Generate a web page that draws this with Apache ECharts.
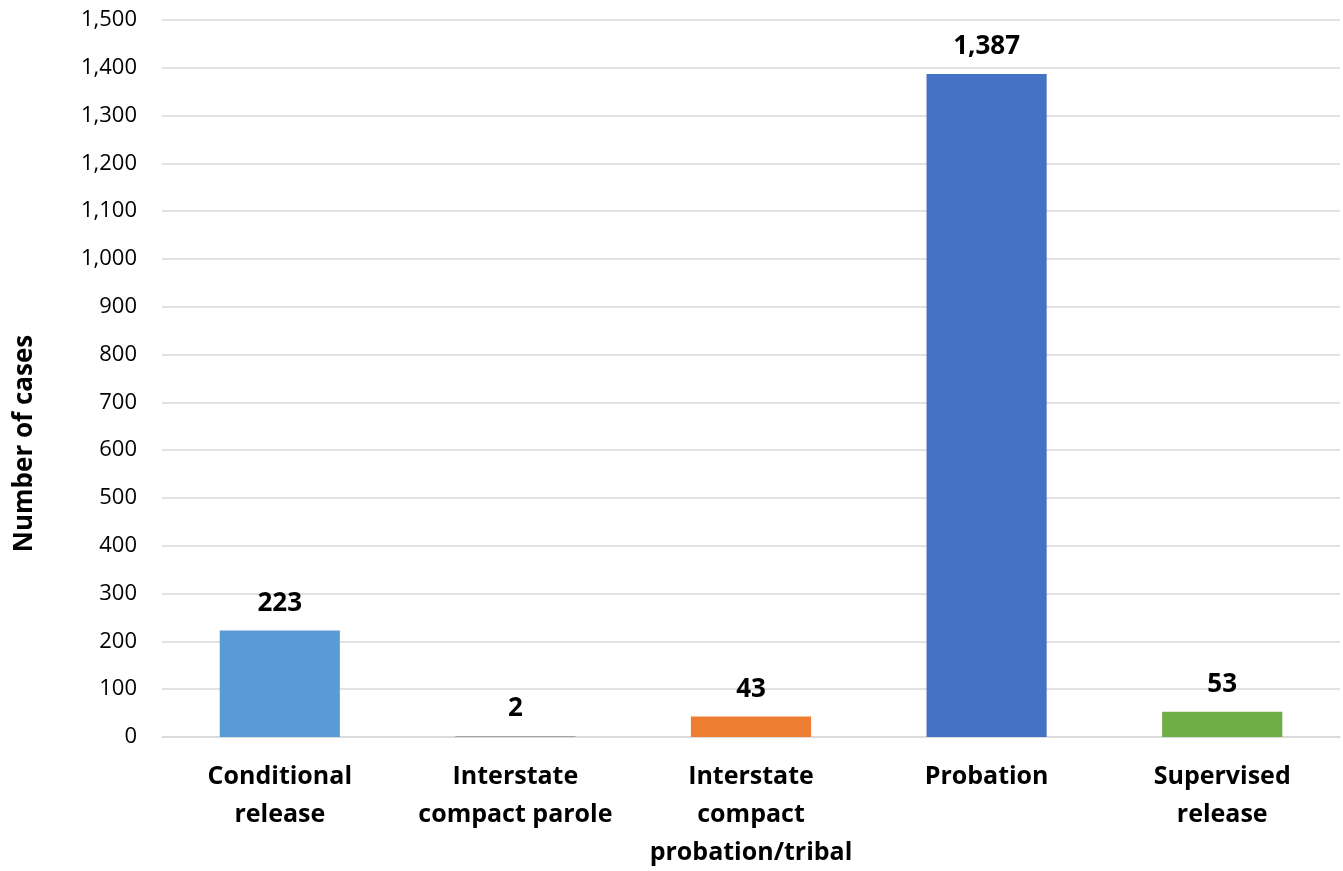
<!DOCTYPE html>
<html>
<head>
<meta charset="utf-8">
<script src="https://cdn.jsdelivr.net/npm/echarts@6/dist/echarts.min.js"></script>
<style>
  html, body { margin: 0; padding: 0; background: #fff; }
  #chart { width: 1343px; height: 871px; }
</style>
</head>
<body>
<div id="chart"></div>
<script>
// categories and values
var categories = ['Conditional\nrelease', 'Interstate\ncompact parole', 'Interstate\ncompact\nprobation/tribal', 'Probation', 'Supervised\nrelease'];
var cases = [223, 2, 43, 1387, 53];
var barColors = ['#5B9BD5', '#A5A5A5', '#ED7D31', '#4472C4', '#70AD47'];

var fmt = function (v) {
  return Number(v).toLocaleString('en-US');
};

var chart = echarts.init(document.getElementById('chart'));

chart.setOption({
  animation: false,
  grid: {
    left: 162,
    right: 3,
    top: 20,
    bottom: 134,
    outerBoundsMode: 'none'
  },
  xAxis: {
    type: 'category',
    data: categories,
    axisLine: { show: true, lineStyle: { color: '#d9d9d9', width: 1.5 } },
    axisTick: { show: false },
    axisLabel: {
      color: '#000',
      fontFamily: 'Open Sans',
      fontWeight: 'bold',
      fontSize: 25,
      lineHeight: 38,
      margin: 21,
      interval: 0
    }
  },
  yAxis: {
    type: 'value',
    min: 0,
    max: 1500,
    interval: 100,
    name: 'Number of cases',
    nameLocation: 'middle',
    nameGap: 124,
    nameTextStyle: {
      color: '#000',
      fontFamily: 'Open Sans',
      fontWeight: 'bold',
      fontSize: 26,
      // push the title a bit below the middle, like the original
      padding: [0, 130, 0, 0]
    },
    axisLine: { show: false },
    axisTick: { show: false },
    splitLine: { lineStyle: { color: '#d9d9d9', width: 1.5 } },
    axisLabel: {
      color: '#000',
      fontFamily: 'Open Sans',
      fontSize: 22,
      margin: 25,
      formatter: fmt
    }
  },
  series: [
    {
      type: 'bar',
      data: cases.map(function (v, i) {
        return { value: v, itemStyle: { color: barColors[i] } };
      }),
      barWidth: '51%',
      label: {
        show: true,
        position: 'top',
        distance: 14,
        color: '#000',
        fontFamily: 'Open Sans',
        fontWeight: 'bold',
        fontSize: 26,
        formatter: function (p) { return fmt(p.value); }
      }
    }
  ]
});
</script>
</body>
</html>
